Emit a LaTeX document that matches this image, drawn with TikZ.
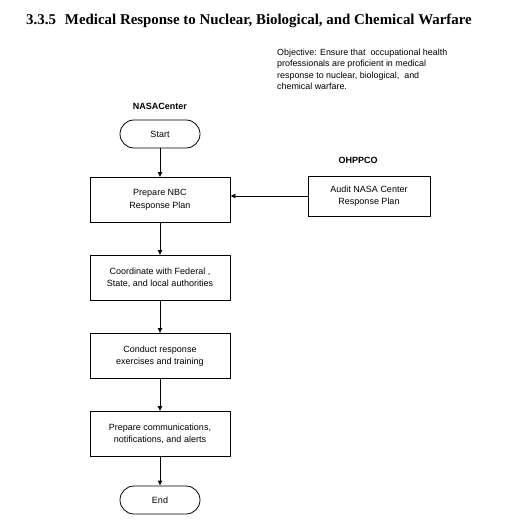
\documentclass[tikz,border=0pt]{standalone}
\usepackage{fontspec}
\setmainfont{Liberation Sans}
\newfontfamily\titlefont{Liberation Serif}
\usetikzlibrary{arrows.meta}
\begin{document}
\begin{tikzpicture}[x=1pt,y=-1pt,
  procbox/.style={draw,line width=0.8pt,minimum width=140pt,minimum height=45pt,inner sep=0pt,align=center,font=\fontsize{9}{12.5}\selectfont},
  termbox/.style={draw,line width=0.8pt,minimum width=80pt,minimum height=28pt,rounded corners=14pt,inner sep=0pt,align=center,font=\fontsize{9}{12}\selectfont},
  lanelabel/.style={font=\bfseries\fontsize{9}{11}\selectfont,inner sep=0pt},
  flow/.style={line width=0.8pt,-{Latex[length=5pt,width=5pt]}}]
\useasboundingbox (0,0) rectangle (523,524);
\node[anchor=base west,inner sep=0pt,font=\titlefont\bfseries\fontsize{14.9}{17}\selectfont] (title) at (26,25) {3.3.5\hspace{9pt}Medical Response to Nuclear, Biological, and Chemical Warfare};
\node[anchor=north west,inner sep=0pt,align=left,font=\fontsize{8.9}{11.3}\selectfont] (obj) at (277,49) {Objective: Ensure that\ \ occupational health\\professionals are proficient in medical\\response to nuclear, biological,\ \ and\\chemical warfare.};
\node[lanelabel] (nasa) at (160,106) {NASACenter};
\node[lanelabel] (ohppco) at (358,160) {OHPPCO};
\node[termbox] (start) at (160,134) {Start};
\node[procbox] (prep) at (160,200) {Prepare NBC\\Response Plan};
\node[procbox,minimum width=122pt,minimum height=40pt] (audit) at (369,196) {Audit NASA Center\\Response Plan};
\node[procbox] (coord) at (160,278) {Coordinate with Federal ,\\State, and local authorities};
\node[procbox] (conduct) at (160,356) {Conduct response\\exercises and training};
\node[procbox] (comm) at (160,434) {Prepare communications,\\notifications, and alerts};
\node[termbox] (end) at (160,500) {End};
\draw[flow] (start) -- (prep);
\draw[flow] (audit.west) -- (prep.east |- audit.west);
\draw[flow] (prep) -- (coord);
\draw[flow] (coord) -- (conduct);
\draw[flow] (conduct) -- (comm);
\draw[flow] (comm) -- (end);
\end{tikzpicture}
\end{document}
